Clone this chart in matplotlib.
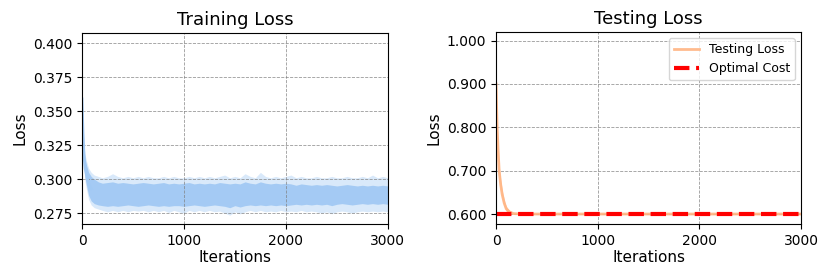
import matplotlib
matplotlib.use("Agg")
import matplotlib.pyplot as plt
from matplotlib.ticker import FormatStrFormatter

# ---- training loss (band: outer fringe + dense core) ----
train_iters = [0, 5, 10, 20, 30, 45, 65, 90, 120, 160,
               200, 250, 300, 350, 400, 450, 500, 550, 600, 650,
               700, 750, 800, 850, 900, 950, 1000, 1050, 1100, 1150,
               1200, 1250, 1300, 1350, 1400, 1450, 1500, 1550, 1600, 1650,
               1700, 1750, 1800, 1850, 1900, 1950, 2000, 2050, 2100, 2150,
               2200, 2250, 2300, 2350, 2400, 2450, 2500, 2550, 2600, 2650,
               2700, 2750, 2800, 2850, 2900, 2950, 3000]
train_outer_hi = [0.368, 0.355, 0.342, 0.325, 0.318, 0.313, 0.308, 0.305, 0.303, 0.302,
                  0.301, 0.302, 0.304, 0.302, 0.301, 0.302, 0.301, 0.302, 0.301, 0.302,
                  0.301, 0.301, 0.302, 0.301, 0.302, 0.301, 0.301, 0.302, 0.301, 0.302,
                  0.301, 0.302, 0.301, 0.302, 0.303, 0.301, 0.302, 0.301, 0.304, 0.302,
                  0.301, 0.305, 0.302, 0.301, 0.302, 0.301, 0.302, 0.303, 0.301, 0.302,
                  0.301, 0.301, 0.302, 0.301, 0.301, 0.302, 0.301, 0.301, 0.302, 0.301,
                  0.301, 0.302, 0.301, 0.303, 0.301, 0.302, 0.301]
train_outer_lo = [0.350, 0.335, 0.325, 0.308, 0.298, 0.292, 0.285, 0.281, 0.279, 0.278,
                  0.277, 0.276, 0.277, 0.276, 0.277, 0.276, 0.277, 0.2765, 0.277, 0.276,
                  0.277, 0.276, 0.277, 0.2755, 0.277, 0.276, 0.275, 0.277, 0.276, 0.277,
                  0.276, 0.277, 0.276, 0.2765, 0.275, 0.2735, 0.276, 0.2745, 0.276, 0.277,
                  0.276, 0.277, 0.276, 0.2765, 0.276, 0.277, 0.276, 0.2765, 0.276, 0.277,
                  0.276, 0.2765, 0.276, 0.275, 0.276, 0.2745, 0.276, 0.2765, 0.276, 0.275,
                  0.276, 0.2765, 0.276, 0.2765, 0.276, 0.2765, 0.276]
train_core_hi = [0.366, 0.352, 0.339, 0.322, 0.315, 0.310, 0.305, 0.302, 0.300, 0.298,
                 0.297, 0.2975, 0.298, 0.297, 0.2975, 0.297, 0.2965, 0.297, 0.2975, 0.297,
                 0.2965, 0.297, 0.2975, 0.2965, 0.297, 0.2965, 0.297, 0.2975, 0.2965, 0.297,
                 0.2965, 0.297, 0.2965, 0.2975, 0.297, 0.2965, 0.297, 0.2965, 0.298, 0.297,
                 0.2965, 0.298, 0.297, 0.2965, 0.297, 0.2965, 0.297, 0.2965, 0.2955, 0.2965,
                 0.296, 0.2955, 0.296, 0.2955, 0.296, 0.2955, 0.295, 0.2955, 0.296, 0.2955,
                 0.295, 0.2955, 0.295, 0.2955, 0.295, 0.2955, 0.295]
train_core_lo = [0.352, 0.338, 0.328, 0.311, 0.301, 0.295, 0.288, 0.284, 0.282, 0.281,
                 0.2805, 0.280, 0.2805, 0.280, 0.2805, 0.281, 0.2805, 0.280, 0.2805, 0.281,
                 0.2805, 0.280, 0.2805, 0.280, 0.2805, 0.2805, 0.280, 0.2805, 0.281, 0.2805,
                 0.280, 0.2805, 0.281, 0.2805, 0.280, 0.279, 0.2805, 0.2795, 0.2805, 0.281,
                 0.2805, 0.281, 0.2805, 0.281, 0.2805, 0.281, 0.2805, 0.281, 0.2815, 0.281,
                 0.2815, 0.281, 0.2815, 0.281, 0.2815, 0.2805, 0.2815, 0.282, 0.2815, 0.281,
                 0.2815, 0.282, 0.2815, 0.282, 0.2815, 0.282, 0.2815]

# ---- testing loss ----
test_iters = [0, 5, 10, 20, 30, 45, 60, 80, 100, 130, 170, 250, 3000]
test_loss = [0.900, 0.845, 0.800, 0.745, 0.700, 0.668, 0.645, 0.625, 0.612, 0.605, 0.601, 0.600, 0.600]
test_spread = [0.004, 0.010, 0.012, 0.014, 0.014, 0.012, 0.010, 0.008, 0.006, 0.004, 0.002, 0.001, 0.001]
optimal_cost = 0.600

train_ticks = [0.275, 0.300, 0.325, 0.350, 0.375, 0.400]
test_ticks = [0.6, 0.7, 0.8, 0.9, 1.0]
x_ticks = [0, 1000, 2000, 3000]

blue = "#a1c9f4"
orange = "#ffb482"

fig = plt.figure(figsize=(8.31, 2.8), dpi=100)
ax1 = fig.add_axes([0.0987, 0.2, 0.368, 0.682])
ax2 = fig.add_axes([0.597, 0.2, 0.367, 0.686])

# training
ax1.fill_between(train_iters, train_outer_lo, train_outer_hi, color=blue, alpha=0.4, lw=0)
ax1.fill_between(train_iters, train_core_lo, train_core_hi, color=blue, alpha=0.95, lw=0)
# the steep first part shows as a thin line hugging the y axis
early = 8
mid = [(a + b) / 2 for a, b in zip(train_core_lo[:early], train_core_hi[:early])]
ax1.plot(train_iters[:early], mid, color=blue, lw=2)
ax1.set_xlim(0, 3000)
ax1.set_ylim(0.267, 0.4075)
ax1.set_yticks(train_ticks)
ax1.yaxis.set_major_formatter(FormatStrFormatter("%.3f"))
ax1.set_title("Training Loss", fontsize=13)

# testing
lo = [v - s for v, s in zip(test_loss, test_spread)]
hi = [v + s for v, s in zip(test_loss, test_spread)]
ax2.fill_between(test_iters, lo, hi, color=orange, alpha=0.6, lw=0)
ax2.plot(test_iters, test_loss, color=orange, lw=2, alpha=0.9, label="Testing Loss")
ax2.axhline(optimal_cost, color="red", lw=3, ls="--", label="Optimal Cost")
ax2.set_xlim(0, 3000)
ax2.set_ylim(0.577, 1.02)
ax2.set_yticks(test_ticks)
ax2.yaxis.set_major_formatter(FormatStrFormatter("%.3f"))
ax2.set_title("Testing Loss", fontsize=13)
ax2.legend(loc="upper right", fontsize=9)

for ax in (ax1, ax2):
    ax.set_xticks(x_ticks)
    ax.set_xlabel("Iterations", fontsize=11, labelpad=2)
    ax.set_ylabel("Loss", fontsize=11)
    ax.tick_params(labelsize=10)
    ax.grid(True, color="gray", ls="--", lw=0.6, alpha=0.8)

fig.savefig("out.png", dpi=100)
